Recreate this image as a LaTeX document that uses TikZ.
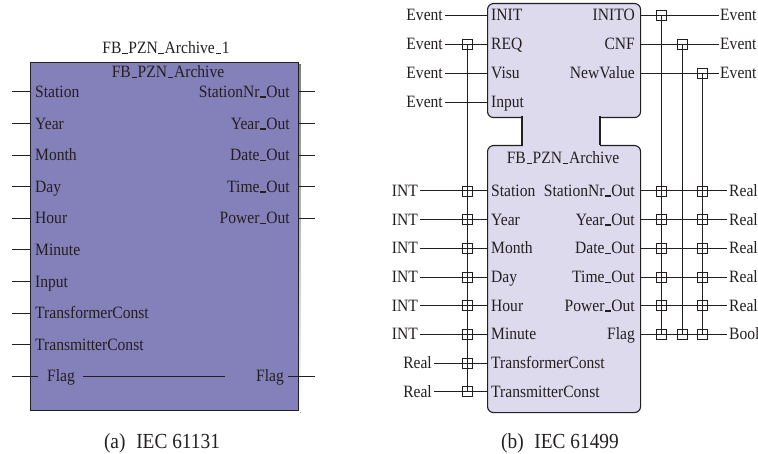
\documentclass[tikz,border=0pt]{standalone}
\usepackage{fontspec}
\setmainfont{Liberation Serif}[FakeStretch=0.9]
\definecolor{ink}{HTML}{231F20}
\definecolor{fbpurple}{HTML}{8480B9}
\definecolor{fblav}{HTML}{DCDAEC}
\definecolor{shade}{HTML}{5E5E5E}
% thick low bar used for the underscores in identifiers
\newcommand\ubar{\kern0.04em\rule[-0.5pt]{0.32em}{1.5pt}\kern0.04em}
\begin{document}
\begin{tikzpicture}[x=1pt,y=-1pt,
  font=\fontsize{17.3}{20}\selectfont,
  lbl/.style={inner sep=0pt, text=ink},
  captext/.style={inner sep=0pt, text=ink, font=\fontsize{21.5}{24}\selectfont},
  wire/.style={draw=ink, line width=1pt},
  joint/.style={draw=ink, line width=0.9pt, rectangle, minimum size=10pt, inner sep=0pt},
  fbbox/.style={draw=ink, line width=1.1pt, inner sep=0pt, anchor=north west}]
\useasboundingbox (0,0) rectangle (758,454);

% ---------------- (a) IEC 61131 block ----------------
\fill[shade] (32.5,64.5) rectangle (300.5,412.5);
\node[fbbox, fill=fbpurple, minimum width=268pt, minimum height=348pt] (fba) at (30,62) {};
\node[lbl, anchor=base] (ainst) at (166,54) {FB\ubar PZN\ubar Archive\ubar 1};
\node[lbl, anchor=base] (atype) at (168,78) {FB\ubar PZN\ubar Archive};
\foreach \y/\t [count=\i] in {92/Station,123.6/Year,155.2/Month,186.8/Day,218.4/Hour,250/Minute,281.6/Input,313.2/TransformerConst,344.8/TransmitterConst}{
  \node[lbl, anchor=base west] (ain\i) at (35,\y+5.5) {\t};
  \coordinate (aip\i) at (12,\y);
  \draw[wire] (aip\i) -- (fba.west |- aip\i);
}
\foreach \y/\t [count=\i] in {92/StationNr\ubar Out,123.6/Year\ubar Out,155.2/Date\ubar Out,186.8/Time\ubar Out,218.4/Power\ubar Out}{
  \node[lbl, anchor=base east] (aout\i) at (290,\y+5.5) {\t};
  \coordinate (aop\i) at (315,\y);
  \draw[wire] (fba.east |- aop\i) -- (aop\i);
}
% Flag passes straight through the block
\node[lbl, anchor=base west] (aflagin) at (47,381.9) {Flag};
\node[lbl, anchor=base east] (aflagout) at (284,381.9) {Flag};
\coordinate (afl0) at (12,376.4);
\coordinate (afl1) at (38,376.4);
\coordinate (afl2) at (83,376.4);
\coordinate (afl3) at (225,376.4);
\coordinate (afl4) at (288,376.4);
\coordinate (afl5) at (315,376.4);
\draw[wire] (afl0) -- (afl1);
\draw[wire] (afl2) -- (afl3);
\draw[wire] (afl4) -- (afl5);
\node[captext, anchor=base] (capa) at (162,448) {(a)\enspace IEC 61131};

% ---------------- (b) IEC 61499 block ----------------
\node[fbbox, fill=fblav, rounded corners=6pt, minimum width=153pt, minimum height=114pt] (fbt) at (487,3) {};
\node[fbbox, fill=fblav, rounded corners=6pt, minimum width=153pt, minimum height=267pt] (fbb) at (487,145) {};
% neck joining event head and data body
\coordinate (nl1) at (522,116.5);
\coordinate (nl2) at (522,145.5);
\coordinate (nr1) at (600,116.5);
\coordinate (nr2) at (600,145.5);
\fill[fblav] (522.5,115) rectangle (599.5,147);
\draw[ink, line width=1.1pt] (nl1) -- (nl2) (nr1) -- (nr2);
\node[lbl, anchor=base] (btype) at (563,164) {FB\ubar PZN\ubar Archive};

% event inputs
\foreach \y/\t [count=\i] in {15.5/INIT,44.5/REQ,73.5/Visu,102.5/Input}{
  \node[lbl, anchor=base west] (bei\i) at (491,\y+5.5) {\t};
  \node[lbl, anchor=base east] (bet\i) at (443,\y+5.5) {Event};
  \coordinate (bes\i) at (445,\y);
  \draw[wire] (bes\i) -- (fbt.west |- bes\i);
}
% event outputs
\foreach \y/\t [count=\i] in {15.5/INITO,44.5/CNF,73.5/NewValue}{
  \node[lbl, anchor=base east] (beo\i) at (635,\y+5.5) {\t};
  \node[lbl, anchor=base west] (bot\i) at (720,\y+5.5) {Event};
  \coordinate (boe\i) at (718.5,\y);
  \draw[wire] (fbt.east |- boe\i) -- (boe\i);
}
% data inputs
\foreach \y/\t/\ty/\tx [count=\i] in {191/Station/INT/418,219.7/Year/INT/418,248.4/Month/INT/418,277.1/Day/INT/418,305.8/Hour/INT/418,334.5/Minute/INT/418,363.2/TransformerConst/Real/432,391.9/TransmitterConst/Real/432}{
  \node[lbl, anchor=base west] (bdi\i) at (491,\y+5.5) {\t};
  \node[lbl, anchor=base east] (bdt\i) at (\tx,\y+5.5) {\ty};
  \coordinate (bds\i) at (\tx+2,\y);
  \draw[wire] (bds\i) -- (fbb.west |- bds\i);
}
% data outputs
\foreach \y/\t/\ty [count=\i] in {191/StationNr\ubar Out/Real,219.7/Year\ubar Out/Real,248.4/Date\ubar Out/Real,277.1/Time\ubar Out/Real,305.8/Power\ubar Out/Real,334.5/Flag/Bool}{
  \node[lbl, anchor=base east] (bdo\i) at (635,\y+5.5) {\t};
  \node[lbl, anchor=base west] (bot\i) at (729,\y+5.5) {\ty};
  \coordinate (bdoe\i) at (727,\y);
  \draw[wire] (fbb.east |- bdoe\i) -- (bdoe\i);
}

% WITH associations (vertical buses)
\coordinate (wl0) at (467,44.5);
\coordinate (wl1) at (467,391.9);
\draw[wire] (wl0) -- (wl1);
\coordinate (wa0) at (661,15.5);
\coordinate (wa1) at (661,334.5);
\coordinate (wb0) at (682,44.5);
\coordinate (wb1) at (682,334.5);
\coordinate (wc0) at (702,73.5);
\coordinate (wc1) at (702,334.5);
\draw[wire] (wa0) -- (wa1);
\draw[wire] (wb0) -- (wb1);
\draw[wire] (wc0) -- (wc1);

% junction boxes
\node[joint] (jl0) at (467,44.5) {};
\foreach \y [count=\i] in {191,219.7,248.4,277.1,305.8,334.5,363.2,391.9}
  \node[joint] (jl\i) at (467,\y) {};
\node[joint] (ja0) at (661,15.5) {};
\node[joint] (jb0) at (682,44.5) {};
\node[joint] (jc0) at (702,73.5) {};
\foreach \y [count=\i] in {191,219.7,248.4,277.1,305.8}{
  \node[joint] (ja\i) at (661,\y) {};
  \node[joint] (jc\i) at (702,\y) {};
}
\node[joint] (jaf) at (661,334.5) {};
\node[joint] (jbf) at (682,334.5) {};
\node[joint] (jcf) at (702,334.5) {};

\node[captext, anchor=base] (capb) at (560,448) {(b)\enspace IEC 61499};
\end{tikzpicture}
\end{document}
